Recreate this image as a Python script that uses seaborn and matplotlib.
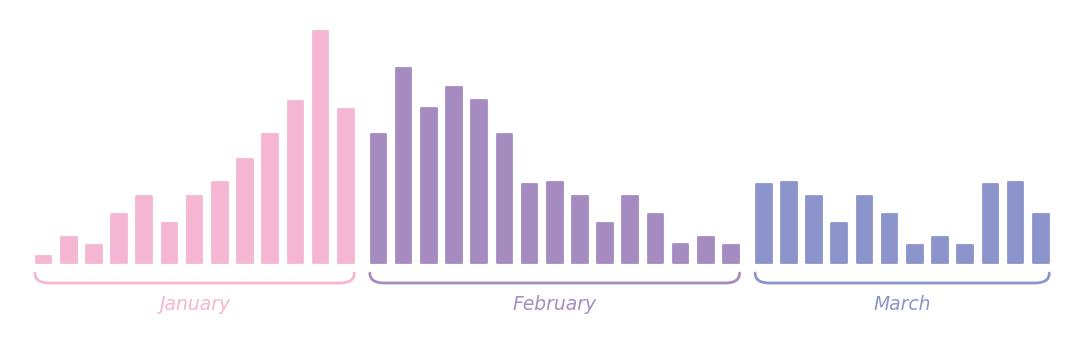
import numpy as np
import pandas as pd
import matplotlib
matplotlib.use("Agg")
import matplotlib.pyplot as plt
from matplotlib.path import Path
from matplotlib.patches import PathPatch
import seaborn as sns

months = ["January", "February", "March"]
jan_values = [7, 26, 18, 49, 67, 40, 67, 81, 104, 129, 162, 232, 154]
feb_values = [129, 195, 155, 176, 163, 129, 79, 81, 67, 40, 67, 49, 19, 26, 18]
mar_values = [79, 81, 67, 40, 67, 49, 18, 26, 18, 79, 81, 49]
colors = {"January": "#F4B6D2", "February": "#A68BC1", "March": "#8B95CB"}

group_gap = 1.3
rows = []
start = 0.0
spans = {}
for m, vals in zip(months, [jan_values, feb_values, mar_values]):
    pos = start + np.arange(len(vals))
    spans[m] = (pos[0], pos[-1])
    for p, v in zip(pos, vals):
        rows.append({"pos": p, "value": v, "month": m})
    start = pos[-1] + group_gap
df = pd.DataFrame(rows)

sns.set_style("white")
plt.rcParams["font.family"] = ["DejaVu Sans"]
fig = plt.figure(figsize=(10.81, 3.6), dpi=100)
ax = fig.add_axes([0, 0, 1, 1])
sns.barplot(data=df, x="pos", y="value", hue="month", palette=colors,
            native_scale=True, dodge=False, width=0.62, legend=False, ax=ax,
            linewidth=1.3, saturation=1)
for bar in ax.patches:
    bar.set_edgecolor(bar.get_facecolor())
    bar.set_joinstyle("round")

for m in months:
    a, b = spans[m]
    xl, xr = a - 0.34, b + 0.34
    c = colors[m]
    verts = [(xl, -10), (xl, -17), (xl + 0.2, -20), (xl + 0.6, -20),
             (xr - 0.6, -20), (xr - 0.2, -20), (xr, -17), (xr, -10)]
    codes = [Path.MOVETO, Path.CURVE4, Path.CURVE4, Path.CURVE4,
             Path.LINETO, Path.CURVE4, Path.CURVE4, Path.CURVE4]
    ax.add_patch(PathPatch(Path(verts, codes), facecolor="none", edgecolor=c,
                           lw=2.0, capstyle="round"))
    ax.text((a + b) / 2, -41, m, color=c, ha="center", va="center",
            fontsize=13.5, fontstyle="italic")

ax.set_xlim(-1.728, 41.2)
ax.set_ylim(-97, 263)
ax.axis("off")
fig.savefig("out.png", dpi=100, facecolor="white")
